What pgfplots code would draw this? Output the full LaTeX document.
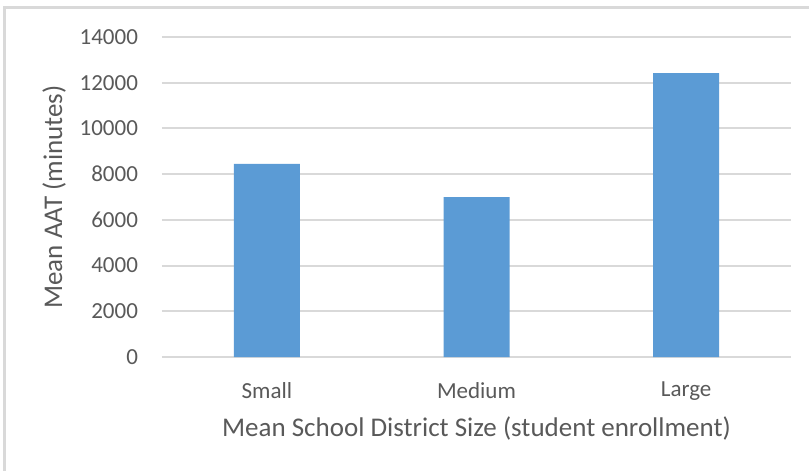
\documentclass[border=0pt]{standalone}
\usepackage{pgfplots}
\pgfplotsset{compat=1.18}
\usepackage{fontspec}
\setmainfont{Carlito}
\definecolor{barblue}{HTML}{5B9BD5}
\definecolor{gridgray}{HTML}{D9D9D9}
\definecolor{txtgray}{HTML}{595959}
\begin{document}
\begin{tikzpicture}
\useasboundingbox (-81bp,-57bp) rectangle (323.5bp,178.5bp);
% chart frame (top and left edges visible)
\draw[gridgray, line width=1.2bp] (-78.8bp,-60bp) -- (-78.8bp,174.8bp) -- (330bp,174.8bp);
\begin{axis}[
  at={(0,0)}, anchor=south west,
  scale only axis,
  width=314.5bp, height=160bp,
  ybar, bar width=33bp,
  xmin=-0.5, xmax=2.5,
  ymin=0, ymax=14000,
  xtick=data,
  xticklabels={Small,Medium,Large},
  ytick={0,2000,...,14000},
  scaled y ticks=false,
  ymajorgrids,
  grid style={gridgray, line width=1bp},
  axis line style={draw=none},
  major tick length=0pt,
  tick label style={font=\fontsize{11.5bp}{13bp}\selectfont, text=txtgray},
  /pgf/number format/assume math mode=true,
  yticklabel style={/pgf/number format/1000 sep={}, xshift=-8.5bp},
  xticklabel style={yshift=-9bp},
  xlabel={Mean School District Size (student enrollment)},
  ylabel={Mean AAT (minutes)},
  label style={font=\fontsize{13.5bp}{15bp}\selectfont, text=txtgray},
  xlabel style={yshift=-1bp},
  ylabel style={yshift=0bp},
  clip=false,
]
\addplot[fill=barblue, draw=none] coordinates {(0,8450) (1,6990) (2,12420)};
\end{axis}
\end{tikzpicture}
\end{document}
